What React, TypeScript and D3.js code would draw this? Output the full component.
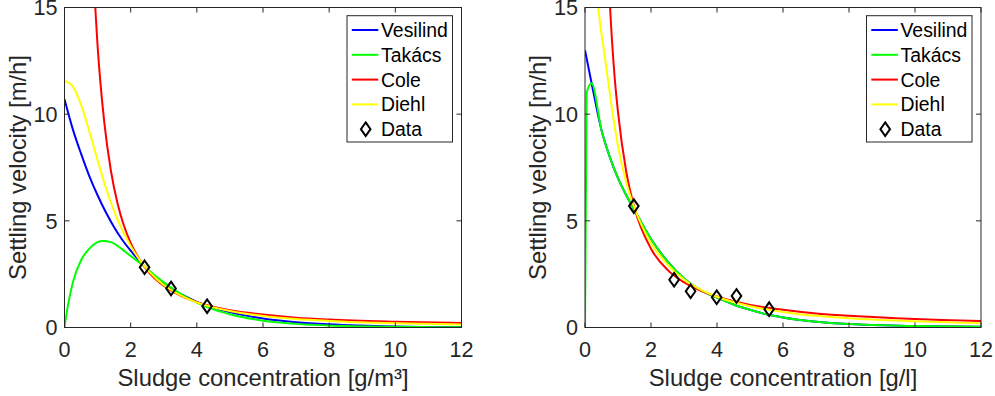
import * as d3 from "d3";

type Pt = [number, number];

// x ticks and y ticks shared by both panels
const xTicks = [0, 2, 4, 6, 8, 10, 12];
const yTicks = [0, 5, 10, 15];

const seriesNames = ["Vesilind", "Takács", "Cole", "Diehl"];
const seriesColors = ["#0000ff", "#00ff00", "#ff0000", "#ffff00"];

// left panel: [concentration, velocity]
const vesilindLeft: Pt[] = [
  [0, 10.7], [0.25, 9.3], [0.5, 8.15], [0.75, 7.1], [1, 6.2], [1.25, 5.4],
  [1.5, 4.7], [1.75, 4.1], [2, 3.6], [2.4, 2.9], [2.8, 2.3], [3.2, 1.85],
  [3.6, 1.5], [4, 1.2], [5, 0.72], [6, 0.42], [7, 0.25], [8, 0.15],
  [10, 0.05], [12, 0.02],
];
const takacsLeft: Pt[] = [
  [0, 0], [0.1, 1.0], [0.25, 2.1], [0.5, 3.15], [0.75, 3.7], [1, 4.0],
  [1.15, 4.06], [1.4, 4.0], [1.7, 3.72], [2, 3.35], [2.4, 2.88], [2.8, 2.35],
  [3.2, 1.9], [3.6, 1.5], [4, 1.17], [4.5, 0.85], [5, 0.62], [6, 0.32],
  [7, 0.17], [8, 0.09], [10, 0.03], [12, 0.01],
];
const coleLeft: Pt[] = [
  [0.85, 17.5], [0.93, 15], [1, 13.2], [1.2, 9.65], [1.4, 7.37], [1.6, 5.84],
  [1.8, 4.76], [2, 3.97], [2.4, 2.88], [2.8, 2.2], [3.2, 1.75], [3.6, 1.43],
  [4, 1.19], [5, 0.81], [6, 0.61], [7, 0.46], [8, 0.37], [10, 0.27],
  [12, 0.21],
];
const diehlLeft: Pt[] = [
  [0, 11.56], [0.25, 11.3], [0.5, 10.45], [0.75, 9.2], [1, 7.85], [1.25, 6.55],
  [1.5, 5.45], [1.75, 4.55], [2, 3.82], [2.4, 2.9], [2.8, 2.25], [3.2, 1.78],
  [3.6, 1.44], [4, 1.18], [5, 0.77], [6, 0.54], [7, 0.4], [8, 0.31],
  [10, 0.2], [12, 0.14],
];
const dataLeft: Pt[] = [[2.42, 2.82], [3.22, 1.83], [4.31, 1.0]];

// right panel
const vesilindRight: Pt[] = [
  [0, 13.0], [0.2, 11.45], [0.5, 9.25], [0.75, 8.0], [1, 7.0], [1.25, 6.2],
  [1.5, 5.5], [2, 4.15], [2.5, 3.1], [3, 2.3], [3.5, 1.75], [4, 1.4],
  [4.5, 1.08], [5, 0.83], [5.5, 0.62], [6, 0.47], [7, 0.27], [8, 0.16],
  [9, 0.1], [10, 0.07], [12, 0.03],
];
const takacsRight: Pt[] = [
  [0, 0], [0.05, 11.0], [0.2, 11.45], [0.5, 9.25], [0.75, 8.0], [1, 7.0],
  [1.25, 6.2], [1.5, 5.5], [2, 4.15], [2.5, 3.1], [3, 2.3], [3.5, 1.75],
  [4, 1.4], [4.5, 1.08], [5, 0.83], [5.5, 0.62], [6, 0.47], [7, 0.27],
  [8, 0.16], [9, 0.1], [10, 0.07], [12, 0.03],
];
const coleRight: Pt[] = [
  [0.7, 16.9], [0.76, 15], [0.9, 11.7], [1, 10.1], [1.25, 7.3], [1.5, 5.6],
  [2, 3.69], [2.5, 2.7], [3, 2.12], [3.5, 1.73], [4, 1.45], [5, 1.06],
  [6, 0.83], [7, 0.66], [8, 0.55], [10, 0.4], [12, 0.31],
];
const diehlRight: Pt[] = [
  [0.35, 15.8], [0.4, 15], [0.6, 12.7], [0.8, 10.45], [1, 8.5], [1.25, 6.8],
  [1.5, 5.6], [2, 3.95], [2.5, 2.95], [3, 2.25], [3.5, 1.78], [4, 1.44],
  [5, 1.0], [6, 0.73], [7, 0.55], [8, 0.43], [10, 0.29], [12, 0.2],
];
const dataRight: Pt[] = [
  [1.48, 5.69], [2.7, 2.24], [3.2, 1.7], [3.99, 1.42], [4.59, 1.48], [5.58, 0.86],
];

const FONT = "'Liberation Sans', Arial, Helvetica, sans-serif";
const AXIS = "#262626";
const diamond = "M0,-6.8L4.8,0L0,6.8L-4.8,0Z";

interface PanelProps {
  id: string;
  left: number;
  right: number;
  curves: Pt[][];
  data: Pt[];
  xLabel: string;
  yLabelX: number;
}

function Panel({ id, left, right, curves, data, xLabel, yLabelX }: PanelProps) {
  const top = 7.5;
  const bottom = 327.5;
  const x = d3.scaleLinear().domain([0, 12]).range([left, right]);
  const y = d3.scaleLinear().domain([0, 15]).range([bottom, top]);
  const line = d3
    .line<Pt>()
    .x((d) => x(d[0]))
    .y((d) => y(d[1]))
    .curve(d3.curveMonotoneX);

  const lgX = right - 114.5;
  const lgY = 15.7;
  const rowH = 24.8;

  return (
    <g>
      <defs>
        <clipPath id={`clip-${id}`}>
          <rect x={left} y={top} width={right - left} height={bottom - top} />
        </clipPath>
      </defs>
      <rect x={left} y={top} width={right - left} height={bottom - top} fill="#fff" />

      <g clipPath={`url(#clip-${id})`}>
        {curves.map((c, i) => (
          <path
            key={i}
            d={line(c) || ""}
            fill="none"
            stroke={seriesColors[i]}
            strokeWidth={2}
          />
        ))}
      </g>
      {data.map((d, i) => (
        <path
          key={i}
          d={diamond}
          transform={`translate(${x(d[0])},${y(d[1])})`}
          fill="none"
          stroke="#000"
          strokeWidth={2}
        />
      ))}

      {/* axes box */}
      <rect
        x={left}
        y={top}
        width={right - left}
        height={bottom - top}
        fill="none"
        stroke={AXIS}
        strokeWidth={1}
      />
      {xTicks.map((t) => (
        <g key={`x${t}`}>
          <line x1={x(t)} x2={x(t)} y1={bottom} y2={bottom - 5} stroke={AXIS} />
          <line x1={x(t)} x2={x(t)} y1={top} y2={top + 5} stroke={AXIS} />
          <text
            x={x(t)}
            y={356.5}
            textAnchor="middle"
            fontSize={21.6}
            fontFamily={FONT}
            fill={AXIS}
          >
            {t}
          </text>
        </g>
      ))}
      {yTicks.map((t) => (
        <g key={`y${t}`}>
          <line x1={left} x2={left + 5} y1={y(t)} y2={y(t)} stroke={AXIS} />
          <line x1={right} x2={right - 5} y1={y(t)} y2={y(t)} stroke={AXIS} />
          <text
            x={left - 7}
            y={y(t)}
            dy="0.36em"
            textAnchor="end"
            fontSize={21.6}
            fontFamily={FONT}
            fill={AXIS}
          >
            {t}
          </text>
        </g>
      ))}

      <text
        x={(left + right) / 2}
        y={385.5}
        textAnchor="middle"
        fontSize={23.8}
        fontFamily={FONT}
        fill={AXIS}
      >
        {xLabel}
      </text>
      <text
        transform={`translate(${yLabelX},${(top + bottom) / 2}) rotate(-90)`}
        textAnchor="middle"
        fontSize={23.8}
        fontFamily={FONT}
        fill={AXIS}
      >
        Settling velocity [m/h]
      </text>

      {/* legend */}
      <rect
        x={lgX}
        y={lgY}
        width={105.5}
        height={126.3}
        fill="#fff"
        stroke={AXIS}
        strokeWidth={1}
      />
      {seriesNames.map((name, i) => {
        const cy = lgY + 14.3 + i * rowH;
        return (
          <g key={name}>
            <line
              x1={lgX + 4.8}
              x2={lgX + 31.3}
              y1={cy}
              y2={cy}
              stroke={seriesColors[i]}
              strokeWidth={2}
            />
            <text
              x={lgX + 34}
              y={cy}
              dy="0.36em"
              fontSize={19.4}
              fontFamily={FONT}
              fill="#000"
            >
              {name}
            </text>
          </g>
        );
      })}
      <path
        d={diamond}
        transform={`translate(${lgX + 18.7},${lgY + 14.3 + 4 * rowH})`}
        fill="none"
        stroke="#000"
        strokeWidth={2}
      />
      <text
        x={lgX + 34}
        y={lgY + 14.3 + 4 * rowH}
        dy="0.36em"
        fontSize={19.4}
        fontFamily={FONT}
        fill="#000"
      >
        Data
      </text>
    </g>
  );
}

export default function App() {
  return (
    <div style={{ position: "absolute", left: 0, top: 0, background: "#fff" }}>
      <svg width={995} height={396} style={{ display: "block" }}>
        <rect width={995} height={396} fill="#fff" />
        <Panel
          id="left"
          left={64.5}
          right={461.5}
          curves={[vesilindLeft, takacsLeft, coleLeft, diehlLeft]}
          data={dataLeft}
          xLabel="Sludge concentration [g/m³]"
          yLabelX={25.5}
        />
        <Panel
          id="right"
          left={585}
          right={981}
          curves={[vesilindRight, takacsRight, coleRight, diehlRight]}
          data={dataRight}
          xLabel="Sludge concentration [g/l]"
          yLabelX={545.5}
        />
      </svg>
    </div>
  );
}
